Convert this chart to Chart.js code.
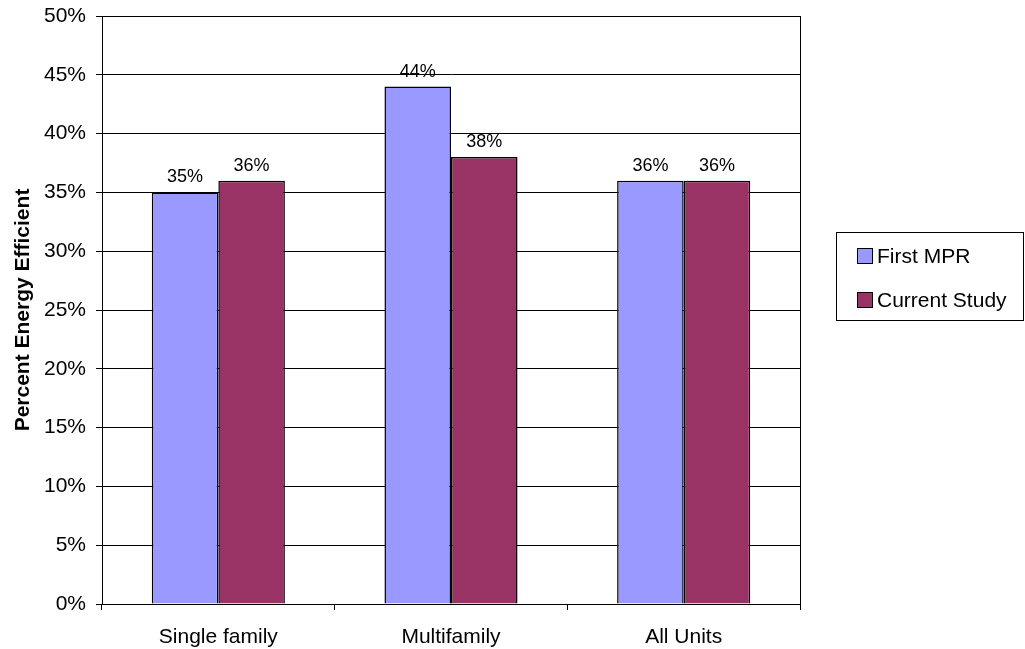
<!DOCTYPE html>
<html>
<head>
<meta charset="utf-8">
<title>Percent Energy Efficient</title>
<script src="https://cdn.jsdelivr.net/npm/chart.js@4.4.0/dist/chart.umd.min.js"></script>
<style>
  html, body { margin: 0; padding: 0; background: #fff; }
  canvas { display: block; }
</style>
</head>
<body>
<canvas id="chart" width="1025" height="649"></canvas>
<script>
/* =============================
   DATA
============================= */
const categories = ["Single family", "Multifamily", "All Units"];
const seriesNames = ["First MPR", "Current Study"];
const firstMpr = [35, 44, 36];
const currentStudy = [36, 38, 36];
const yTickValues = [0, 5, 10, 15, 20, 25, 30, 35, 40, 45, 50];

const FONT = "'Liberation Sans', Arial, sans-serif";

/* =============================
   PLUGINS
============================= */

// black frame round the plot area (top + right edges)
const plotFrame = {
    id: "plotFrame",
    beforeDatasetsDraw(chart) {
        const { ctx, chartArea: a } = chart;
        ctx.save();
        ctx.strokeStyle = "#000";
        ctx.lineWidth = 1;
        ctx.strokeRect(Math.round(a.left) + 0.5, Math.round(a.top) + 0.5,
            Math.round(a.right - a.left), Math.round(a.bottom - a.top));
        ctx.restore();
    }
};

// value above each bar
const barLabels = {
    id: "barLabels",
    afterDatasetsDraw(chart) {
        const ctx = chart.ctx;
        ctx.save();
        ctx.font = "18px " + FONT;
        ctx.fillStyle = "#000";
        ctx.textAlign = "center";
        ctx.textBaseline = "alphabetic";
        chart.data.datasets.forEach((ds, i) => {
            chart.getDatasetMeta(i).data.forEach((bar, j) => {
                ctx.fillText(ds.data[j] + "%", bar.x, bar.y - 10);
            });
        });
        ctx.restore();
    }
};

// boxed legend on the right
const legendBox = {
    id: "legendBox",
    afterDraw(chart) {
        const ctx = chart.ctx;
        ctx.save();
        ctx.strokeStyle = "#000";
        ctx.lineWidth = 1;
        ctx.strokeRect(836.5, 232.5, 187, 88);

        ctx.font = "21px " + FONT;
        ctx.textAlign = "left";
        ctx.textBaseline = "middle";
        chart.data.datasets.forEach((ds, i) => {
            const cy = 256 + i * 44;
            ctx.fillStyle = ds.backgroundColor;
            ctx.fillRect(857, cy - 8, 16, 16);
            ctx.strokeRect(857.5, cy - 7.5, 15, 15);
            ctx.fillStyle = "#000";
            ctx.fillText(ds.label, 877, cy + 1);
        });
        ctx.restore();
    }
};

/* =============================
   CHART
============================= */
new Chart(document.getElementById("chart"), {
    type: "bar",
    data: {
        labels: categories,
        datasets: [
            {
                label: seriesNames[0],
                data: firstMpr,
                backgroundColor: "#9999FF",
                borderColor: "#000",
                borderWidth: 1.5
            },
            {
                label: seriesNames[1],
                data: currentStudy,
                backgroundColor: "#993366",
                borderColor: "#000",
                borderWidth: 1.5
            }
        ]
    },
    options: {
        responsive: false,
        animation: false,
        devicePixelRatio: 1,
        categoryPercentage: 0.572,
        barPercentage: 1,
        layout: { padding: { top: 16, right: 225, bottom: 0, left: 0 } },
        plugins: {
            legend: { display: false },
            tooltip: { enabled: false }
        },
        scales: {
            x: {
                grid: {
                    offset: true,
                    drawOnChartArea: false,
                    drawTicks: true,
                    tickLength: 6,
                    color: "#000"
                },
                border: { color: "#000", width: 1 },
                ticks: {
                    color: "#000",
                    padding: 15,
                    font: { family: FONT, size: 21 }
                },
                afterFit(scale) { scale.height = 45; }
            },
            y: {
                min: 0,
                max: 50,
                afterBuildTicks(scale) {
                    scale.ticks = yTickValues.map(v => ({ value: v }));
                },
                grid: {
                    color: "#000",
                    lineWidth: 1,
                    drawTicks: true,
                    tickLength: 6,
                    tickColor: "#000"
                },
                border: { color: "#000", width: 1 },
                ticks: {
                    color: "#000",
                    padding: 10,
                    font: { family: FONT, size: 21 },
                    callback: v => v + "%"
                },
                title: {
                    display: true,
                    text: "Percent Energy Efficient",
                    color: "#000",
                    padding: { top: 11, bottom: 0 },
                    font: { family: FONT, size: 21, weight: "bold", lineHeight: 1.2 }
                },
                afterFit(scale) {
                    scale.width = 102;
                    scale.paddingTop = 0;
                    scale.paddingBottom = 0;
                }
            }
        }
    },
    plugins: [plotFrame, barLabels, legendBox]
});
</script>
</body>
</html>
